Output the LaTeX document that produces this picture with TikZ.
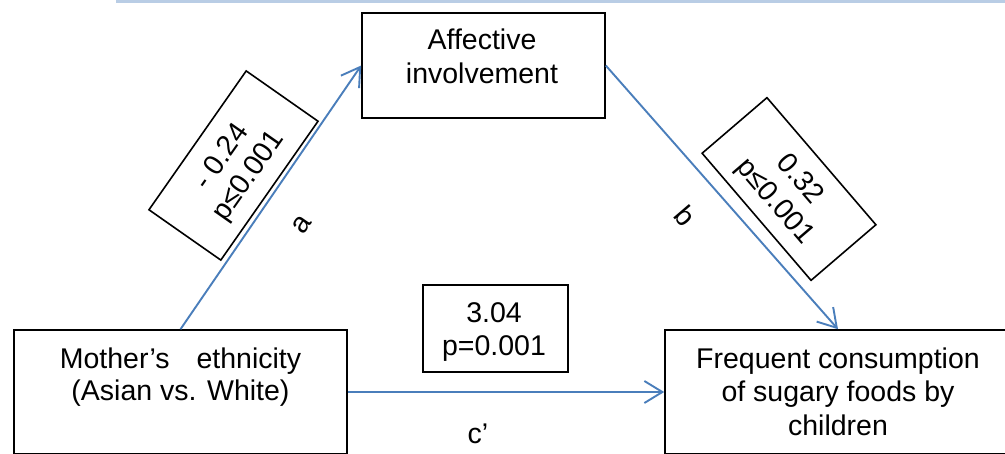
\documentclass[tikz,border=0pt]{standalone}
\usepackage{fontspec}
\setmainfont{Liberation Sans}
\usetikzlibrary{arrows.meta}
\definecolor{arrowblue}{HTML}{4A7EBB}
\definecolor{rulecol}{HTML}{B9CDE5}
\begin{document}
\begin{tikzpicture}[x=1pt,y=-1pt,
  box/.style={draw=black,line width=1.6pt,inner sep=0pt,fill=white},
  txt/.style={font=\fontsize{28.5}{33.5}\selectfont,inner sep=0pt,anchor=base},
  rtxt/.style={font=\fontsize{28.5}{33}\selectfont,align=center,inner sep=0pt},
  conn/.style={draw=arrowblue,line width=1.9pt,-{Straight Barb[length=18pt,width=22pt]}}
]
\useasboundingbox (0,0) rectangle (1005,453);
\clip (0,0) rectangle (1005,453);
% top rule
\coordinate (ruleL) at (116,1.5);
\coordinate (ruleR) at (1005,1.5);
\draw[rulecol,line width=3pt] (ruleL) -- (ruleR);
% main boxes
\node[box,minimum width=243pt,minimum height=105pt] (aff) at (483.5,65.5) {};
\node[box,minimum width=333pt,minimum height=124pt] (mom) at (180.5,392) {};
\node[box,minimum width=346pt,minimum height=124pt] (freq) at (838,392) {};
% box texts
\node[txt] (affA) at (482,49) {Affective};
\node[txt] (affB) at (482,83) {involvement};
\node[txt] (momA) at (180.5,368) {Mother’s\hspace{27pt}ethnicity};
\node[txt] (momB) at (180.5,400) {(Asian vs. White)};
\node[txt] (freqA) at (838,368) {Frequent consumption};
\node[txt] (freqB) at (838,401) {of sugary foods by};
\node[txt] (freqC) at (838,435) {children};
% connectors
\draw[conn] (mom.north) -- (aff.west);
\draw[conn] (aff.east) -- (freq.north);
\draw[conn] (mom.east) -- (freq.west);
% coefficient boxes
\node[box,rotate=55,minimum width=169.5pt,minimum height=87.7pt] (boxa) at (233.5,165.5) {};
\node[rtxt,rotate=55] (texta) at (236,167.2) {- 0.24\\p≤0.001};
\node[box,rotate=-49.4,minimum width=167.4pt,minimum height=85.4pt] (boxb) at (789,189) {};
\node[rtxt,rotate=-49.4] (textb) at (786.7,191) {0.32\\p≤0.001};
\node[box,minimum width=145pt,minimum height=87pt] (boxc) at (495.5,328.5) {};
\node[txt] (textcA) at (494,322) {3.04};
\node[txt] (textcB) at (494,355) {p=0.001};
% path labels
\node[rtxt,rotate=55] (la) at (302,225) {a};
\node[rtxt,rotate=-49.4] (lb) at (685,216) {b};
\node[txt] (lc) at (478,443) {c’};
\end{tikzpicture}
\end{document}
